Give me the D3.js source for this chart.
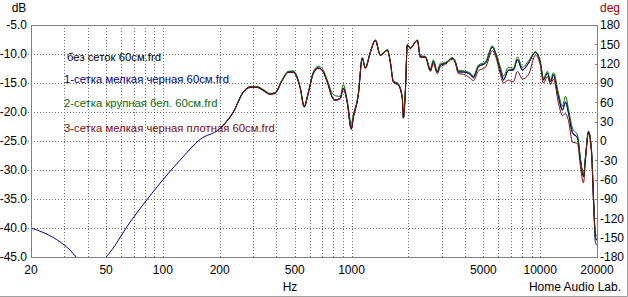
<!DOCTYPE html>
<html><head><meta charset="utf-8">
<script src="https://cdn.jsdelivr.net/npm/d3@7"></script>
<style>
body{margin:0;background:#fff}
svg{display:block}
text{font-family:"Liberation Sans",Arial,sans-serif;}
</style>
</head><body>
<svg id="c" width="628" height="297"></svg>
<script>
// ---------- DATA ----------
const freqLow = [20, 23.7, 28.5, 32.2, 34.7, 40, 45, 50, 67, 93.2, 123.4, 157.7];
const dbLowNavy = [-40.0, -40.9, -42.4, -43.8, -45.0, -46.5, -46.3, -45.0, -39.0, -32.9, -28.3, -24.7];

const freqMain = [200, 236, 267, 290, 316, 340, 371, 394, 429, 462,
  491, 535, 561, 590, 627, 666, 700, 744, 791, 820,
  872, 904, 949, 997, 1021, 1086, 1140, 1183, 1257, 1337,
  1421, 1548, 1606, 1665, 1770, 1858, 1882, 1928, 1976, 2050,
  2126, 2232, 2316, 2462, 2618, 2714, 2850, 2956, 3142, 3424,
  3552, 3684, 3916, 4266, 4424, 4704, 5124, 5580, 5788, 6152,
  6384, 6786, 7212, 7572, 8050, 8662, 9436, 10030, 10404, 10926,
  11334, 11756, 12502, 13124, 13614, 14122, 14826, 15760, 16350, 16960,
  17380, 18032, 18700, 19160, 19640, 20000];

const dbBlack = [-22.9, -20.0, -16.55, -15.7, -15.7, -16.2, -16.9, -16.7, -14.5, -13.1,
  -13.1, -15.9, -19.1, -16.7, -13.3, -12.4, -12.8, -14.8, -17.4, -17.9,
  -17.6, -15.9, -18.3, -22.9, -21.0, -17.0, -10.7, -12.4, -9.7, -7.6,
  -10.2, -9.3, -11.4, -14.8, -15.3, -17.6, -21.0, -16.5, -8.4, -9.0,
  -8.4, -7.6, -10.5, -10.5, -12.8, -11.4, -13.1, -11.9, -11.6, -10.7,
  -11.4, -13.1, -13.1, -13.6, -14.1, -12.2, -11.6, -8.8, -9.8, -12.8,
  -14.5, -12.8, -12.8, -11.0, -12.8, -11.6, -9.7, -11.6, -14.5, -13.3,
  -14.8, -13.6, -17.4, -19.7, -18.3, -20.2, -23.6, -24.5, -28.3, -31.2,
  -27.8, -23.4, -26.6, -34.7, -41.7, -42.1];

const dbNavy = [-22.9, -20.1, -16.6, -15.8, -15.7, -16.3, -16.9, -16.7, -14.5, -13.1,
  -13.1, -15.9, -19.0, -16.7, -13.3, -12.4, -12.8, -14.8, -17.5, -17.9,
  -17.6, -15.9, -18.4, -22.9, -21.0, -17.0, -10.7, -12.4, -9.7, -7.6,
  -10.2, -9.3, -11.4, -14.7, -15.3, -17.6, -21.0, -16.5, -8.4, -9.0,
  -8.4, -7.6, -10.5, -10.5, -12.8, -11.3, -13.1, -11.9, -11.6, -10.7,
  -11.4, -13.1, -13.1, -13.5, -14.0, -12.2, -11.5, -8.8, -9.8, -12.7,
  -14.4, -12.8, -12.7, -11.0, -12.7, -11.6, -9.7, -11.6, -14.4, -13.3,
  -14.8, -13.6, -17.3, -19.6, -18.3, -20.1, -23.5, -24.4, -28.3, -31.0,
  -27.8, -23.4, -26.7, -35.0, -42.5, -43.0];

const dbGreen = [-22.9, -20.0, -16.5, -15.6, -15.6, -16.1, -16.8, -16.6, -14.4, -13.0,
  -12.9, -15.8, -19.0, -16.6, -13.1, -12.1, -12.5, -14.5, -16.8, -17.2,
  -17.3, -15.3, -18.0, -22.0, -20.5, -16.8, -10.6, -12.3, -9.7, -7.6,
  -10.1, -9.3, -11.3, -14.6, -15.1, -17.4, -20.8, -16.4, -8.4, -9.0,
  -8.4, -7.6, -10.3, -10.4, -12.5, -11.0, -12.9, -11.6, -11.5, -10.6,
  -11.3, -12.8, -12.9, -13.3, -13.8, -11.9, -11.4, -8.6, -9.6, -12.3,
  -13.8, -12.3, -12.5, -10.5, -12.3, -11.2, -9.6, -11.4, -14.2, -13.0,
  -14.5, -13.2, -16.8, -19.0, -17.3, -19.5, -22.8, -24.0, -28.0, -31.0,
  -27.6, -23.3, -26.5, -34.5, -41.7, -42.1];

const dbRed = [-22.9, -20.0, -16.6, -15.7, -15.8, -16.3, -17.0, -16.8, -14.6, -13.2,
  -13.2, -16.0, -19.2, -16.8, -13.4, -12.5, -12.9, -14.9, -17.5, -18.0,
  -17.7, -16.0, -18.4, -23.0, -21.1, -17.1, -10.8, -12.5, -9.8, -7.7,
  -10.3, -9.4, -11.5, -14.9, -15.4, -17.7, -21.1, -16.6, -8.5, -9.1,
  -8.5, -7.7, -10.6, -10.6, -13.0, -11.7, -13.4, -12.2, -11.8, -10.9,
  -11.6, -13.4, -13.5, -14.2, -14.6, -12.9, -12.3, -9.4, -10.3, -13.5,
  -15.0, -14.5, -14.8, -13.0, -14.3, -13.6, -10.2, -12.0, -15.0, -13.9,
  -15.3, -14.3, -18.5, -20.6, -20.3, -21.5, -25.2, -25.4, -29.5, -32.2,
  -28.3, -23.6, -27.2, -35.5, -41.0, -41.5];

const seriesNames = ["без сеток 60см.frd", "1-сетка мелкая черная 60см.frd",
  "2-сетка крупная бел. 60см.frd", "3-сетка мелкая черная плотная 60см.frd"];
const dbTicks = [-5, -10, -15, -20, -25, -30, -35, -40, -45];
const degTicks = [180, 150, 120, 90, 60, 30, 0, -30, -60, -90, -120, -150, -180];
const freqTickLabels = [20, 50, 100, 200, 500, 1000, 5000, 10000, 20000];

// ---------- STYLE ----------
const colors = ["#000000", "#000080", "#0a6a0a", "#7a0a0a"];
const W = 628, H = 297;
const L = 31, R = 597, T = 25, B = 257;

const svg = d3.select("#c");
const x = d3.scaleLog().domain([20, 20000]).range([L, R]);
const y = d3.scaleLinear().domain([-45, -5]).range([B, T]);
const yDeg = d3.scaleLinear().domain([-180, 180]).range([B, T]);
const px = v => Math.round(v) + 0.5;

// outer border (bottom/right)
svg.append("path").attr("d", `M0,${H-0.5}H${W-0.5}V0`).attr("fill", "none").attr("stroke", "#a0a0a0");

const grid = svg.append("g").attr("shape-rendering", "crispEdges")
  .attr("stroke", "#707070").attr("stroke-dasharray", "1,2").attr("fill", "none");
x.ticks().filter(f => f > 20 && f < 20000).forEach(f => {
  grid.append("line").attr("x1", px(x(f))).attr("x2", px(x(f))).attr("y1", T).attr("y2", B);
});
dbTicks.filter(d => d > -45 && d < -5).forEach(d => {
  grid.append("line").attr("x1", 25).attr("x2", R).attr("y1", px(y(d))).attr("y2", px(y(d)));
});

// frame
svg.append("rect").attr("x", L + 0.5).attr("y", T + 0.5).attr("width", R - L).attr("height", B - T)
  .attr("fill", "none").attr("stroke", "#808080").attr("shape-rendering", "crispEdges");

// right ticks
degTicks.forEach(d => {
  svg.append("line").attr("x1", R - 2).attr("x2", R + 1).attr("y1", px(yDeg(d))).attr("y2", px(yDeg(d)))
    .attr("stroke", "#808080").attr("shape-rendering", "crispEdges");
});

svg.append("clipPath").attr("id", "clip").append("rect")
  .attr("x", L + 1).attr("y", T + 1).attr("width", R - L - 1).attr("height", B - T - 1);

const line = d3.line().x(d => x(d[0])).y(d => y(d[1])).curve(d3.curveMonotoneX);
const seriesData = [
  freqMain.map((f, i) => [f, dbBlack[i]]),
  freqLow.map((f, i) => [f, dbLowNavy[i]]).concat(freqMain.map((f, i) => [f, dbNavy[i]])),
  freqMain.map((f, i) => [f, dbGreen[i]]),
  freqMain.map((f, i) => [f, dbRed[i]])
];
const curves = svg.append("g").attr("clip-path", "url(#clip)");
seriesData.forEach((s, i) => {
  curves.append("path").attr("d", line(s)).attr("fill", "none")
    .attr("stroke", colors[i]).attr("stroke-width", 1);
});

const fs = 12;
dbTicks.forEach(d => {
  svg.append("text").attr("x", 27).attr("y", y(d)).attr("dy", "0.35em")
    .attr("text-anchor", "end").attr("font-size", fs).attr("fill", "#000").text(d.toFixed(1));
});
degTicks.forEach(d => {
  svg.append("text").attr("x", 600).attr("y", yDeg(d)).attr("dy", "0.35em")
    .attr("text-anchor", "start").attr("font-size", fs).attr("fill", "#000").text(d);
});
freqTickLabels.forEach(f => {
  svg.append("text").attr("x", x(f)).attr("y", 270).attr("dy", "0.35em")
    .attr("text-anchor", "middle").attr("font-size", fs).attr("fill", "#000").text(f);
});
svg.append("text").attr("x", 19).attr("y", 8).attr("dy", "0.35em").attr("text-anchor", "middle")
  .attr("font-size", fs).text("dB");
svg.append("text").attr("x", 600).attr("y", 8).attr("dy", "0.35em").attr("text-anchor", "start")
  .attr("font-size", fs).attr("fill", "#a00000").text("deg");
svg.append("text").attr("x", 290).attr("y", 287).attr("dy", "0.35em").attr("text-anchor", "middle")
  .attr("font-size", fs).text("Hz");
svg.append("text").attr("x", 621).attr("y", 287).attr("dy", "0.35em").attr("text-anchor", "end")
  .attr("font-size", fs).text("Home Audio Lab.");

const legY = [57, 79, 103, 128];
const legX = [67, 64, 64, 64];
seriesNames.forEach((n, i) => {
  svg.append("text").attr("x", legX[i]).attr("y", legY[i]).attr("dy", "0.35em")
    .attr("font-size", 11.3).attr("fill", colors[i]).text(n);
});
</script>
</body></html>
